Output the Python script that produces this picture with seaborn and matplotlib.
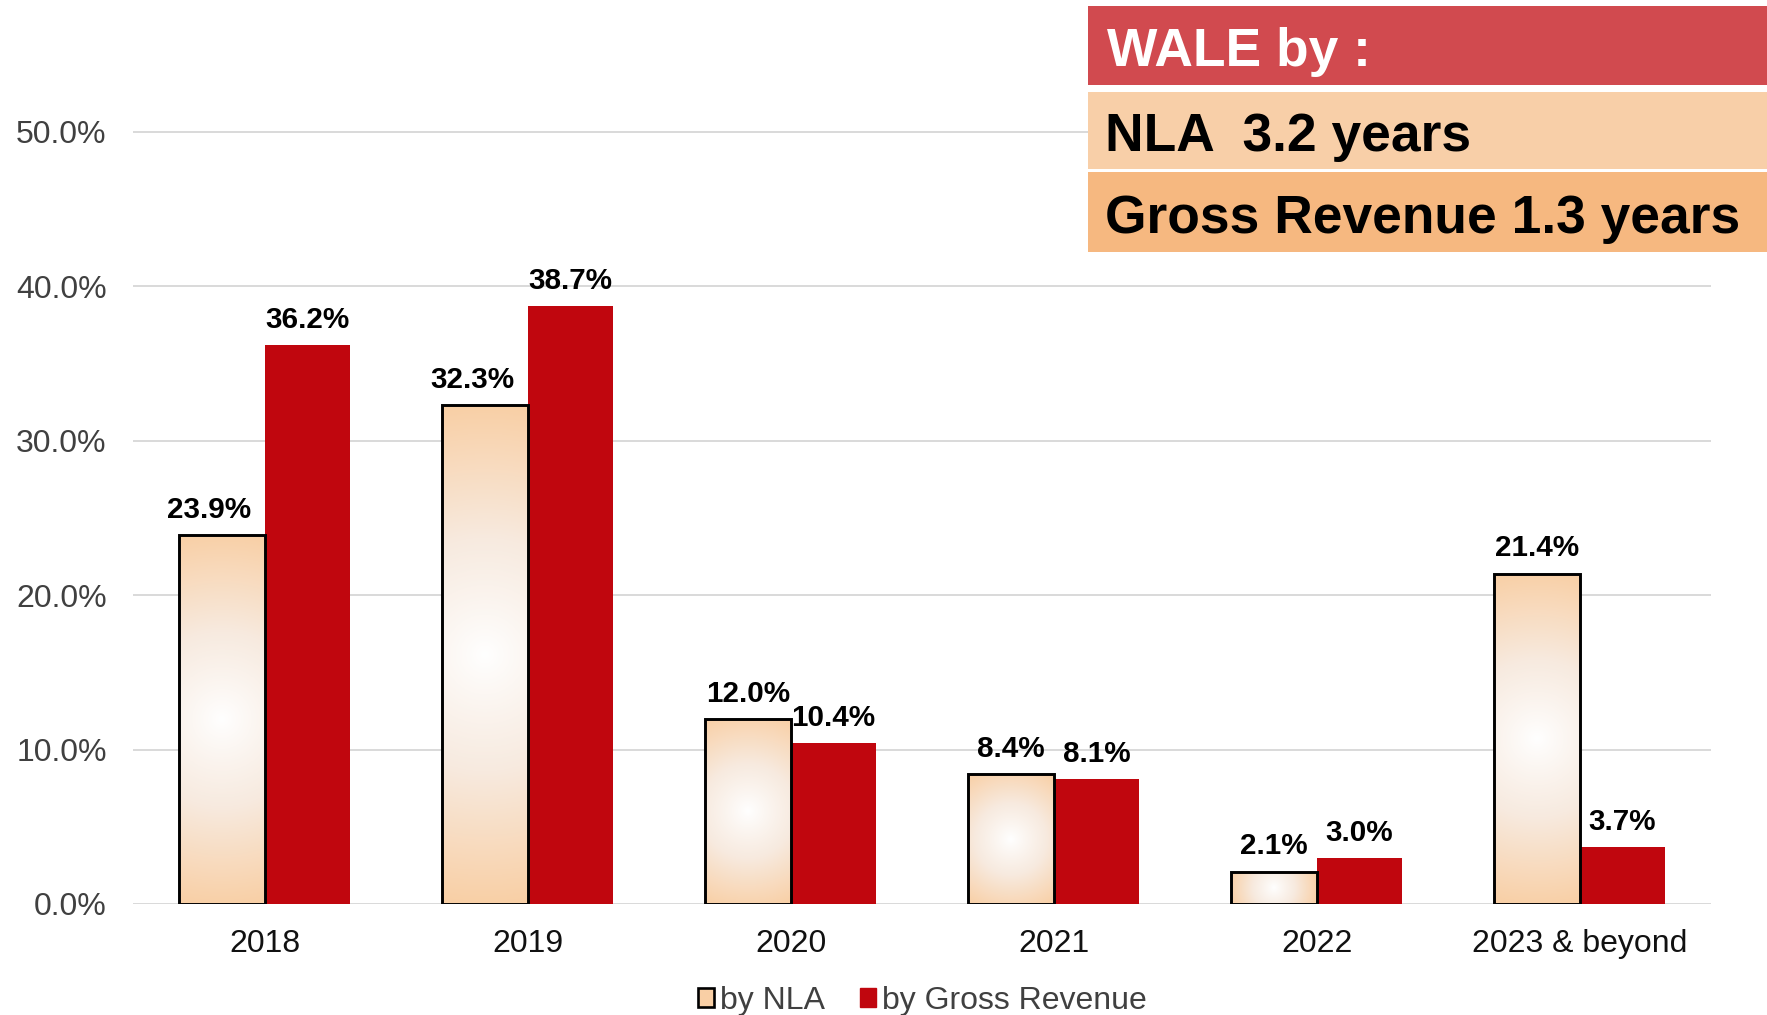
"""
WALE lease expiry profile: by NLA vs by Gross Revenue
"""

import matplotlib.colors as mcolors
import matplotlib.pyplot as plt
import numpy as np
import pandas as pd
import seaborn as sns
from matplotlib.patches import Patch, Rectangle
from matplotlib.ticker import PercentFormatter

years = ["2018", "2019", "2020", "2021", "2022", "2023 & beyond"]
by_nla = [23.9, 32.3, 12.0, 8.4, 2.1, 21.4]
by_revenue = [36.2, 38.7, 10.4, 8.1, 3.0, 3.7]
series = ["by NLA", "by Gross Revenue"]
wale_title = "WALE by :"
wale_lines = ["NLA  3.2 years", "Gross Revenue 1.3 years"]

PEACH = "#f9cfa5"
RED = "#c0060e"

df = pd.DataFrame({
    "year": years * 2,
    "series": [series[0]] * len(years) + [series[1]] * len(years),
    "share": np.array(by_nla + by_revenue) / 100,
})

sns.set_theme(style="white")
plt.rcParams["font.family"] = ["Liberation Sans", "DejaVu Sans"]

fig = plt.figure(figsize=(17.67, 10.15), dpi=100)
ax = fig.add_axes([0.0753, 0.1094, 0.8931, 0.8367])

sns.barplot(data=df, x="year", y="share", hue="series", palette=[PEACH, RED],
            width=0.652, saturation=1, legend=False, ax=ax)

ax.set_xlim(-0.5, len(years) - 0.5)
ax.set_ylim(0, 0.55)
ax.set_yticks(np.arange(0, 0.51, 0.1))
ax.yaxis.set_major_formatter(PercentFormatter(xmax=1, decimals=1))
ax.yaxis.grid(True, color="#d9d9d9", lw=1.4)
ax.set_axisbelow(True)
sns.despine(ax=ax, left=True, bottom=True)
ax.set(xlabel="", ylabel="")
ax.tick_params(axis="y", length=0, pad=19, labelsize=23, labelcolor="#404040")
ax.tick_params(axis="x", length=0, pad=18, labelsize=23, labelcolor="#111111")

nla_bars, rev_bars = ax.containers[0], ax.containers[1]

# radial white -> peach fill for the NLA bars
cmap = mcolors.LinearSegmentedColormap.from_list("nla", ["white", "#f7eadf", PEACH])
for bar in nla_bars:
    x0, w, h = bar.get_x(), bar.get_width(), bar.get_height()
    bb = bar.get_window_extent()
    gx, gy = np.meshgrid(np.linspace(-bb.width / 2, bb.width / 2, 80),
                         np.linspace(-bb.height / 2, bb.height / 2, 200))
    r = np.hypot(gx, gy) / np.hypot(bb.width / 2, bb.height / 2)
    im = ax.imshow(r ** 0.9, cmap=cmap, vmin=0, vmax=1, aspect="auto",
                   extent=[x0, x0 + w, 0, h], zorder=1.5, interpolation="bilinear")
    im.set_clip_path(bar)
    bar.set_facecolor("none")
    bar.set_edgecolor("black")
    bar.set_linewidth(2.1)
    bar.set_zorder(2)
for bar in rev_bars:
    bar.set_linewidth(0)

ax.set_xlim(-0.5, len(years) - 0.5)
ax.set_ylim(0, 0.55)

nla_labels = ax.bar_label(nla_bars, labels=[f"{v:.1f}%" for v in by_nla], padding=8,
                          fontsize=21.3, fontweight="bold", color="black")
ax.bar_label(rev_bars, labels=[f"{v:.1f}%" for v in by_revenue], padding=8,
             fontsize=21.3, fontweight="bold", color="black")
for lab in nla_labels[:2]:
    lab.xyann = (-9, lab.xyann[1])

handles = [Patch(facecolor=PEACH, edgecolor="black", linewidth=1.9),
           Patch(facecolor=RED, edgecolor=RED)]
fig.legend(handles, series, loc="center", bbox_to_anchor=(0.522, 0.014), ncol=2,
           frameon=False, fontsize=23, labelcolor="#404040", handlelength=0.5,
           handleheight=0.5, handletextpad=0.2, columnspacing=1.1)

# WALE summary box, top right
boxes = [(0.9163, 0.0778, "#d14a4f"), (0.8335, 0.0759, "#f8cfa8"), (0.7517, 0.0788, "#f6b880")]
for y0, hgt, col in boxes:
    fig.add_artist(Rectangle((0.616, y0), 0.384, hgt, transform=fig.transFigure,
                             facecolor=col, edgecolor="none", zorder=5))
fig.text(0.6265, 0.935, wale_title, fontsize=38.4, fontweight="bold", color="white",
         va="baseline", zorder=6)
fig.text(0.6255, 0.8515, wale_lines[0], fontsize=38.4, fontweight="bold", color="black",
         va="baseline", zorder=6)
fig.text(0.6255, 0.7705, wale_lines[1], fontsize=38.4, fontweight="bold", color="black",
         va="baseline", zorder=6)

plt.savefig("out.png", dpi=100)
